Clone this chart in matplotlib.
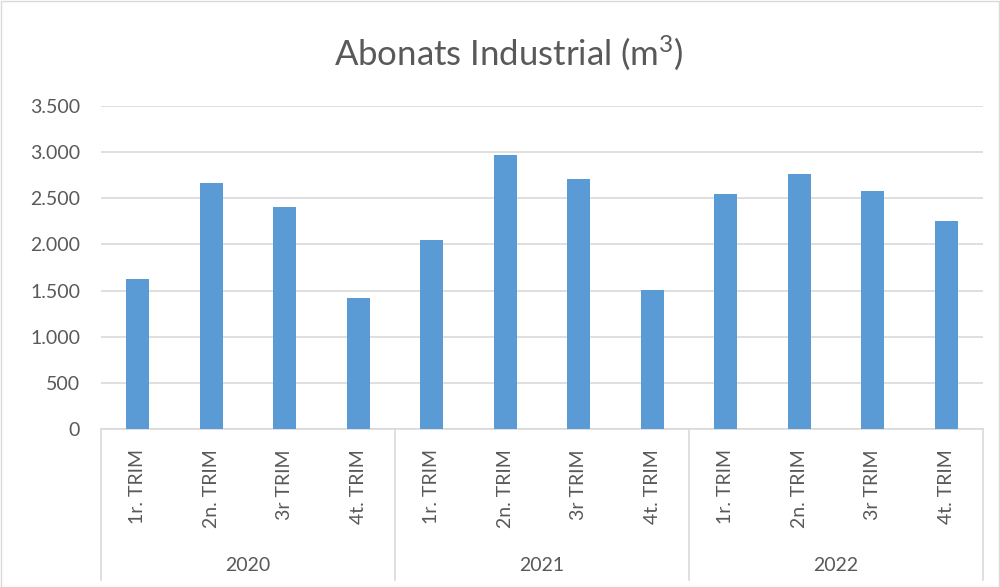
import matplotlib
matplotlib.use("Agg")
import matplotlib.pyplot as plt
from matplotlib.patches import Rectangle
from matplotlib.ticker import FuncFormatter
import matplotlib.transforms as mtransforms

years = ["2020", "2021", "2022"]
quarters = ["1r. TRIM", "2n. TRIM", "3r TRIM", "4t. TRIM"]
values_2020 = [1624, 2665, 2405, 1418]
values_2021 = [2050, 2969, 2712, 1504]
values_2022 = [2549, 2766, 2578, 2256]
title = r"Abonats Industrial (m$^{3}$)"

plt.rcParams['font.family'] = ['Lato', 'DejaVu Sans']
plt.rcParams['mathtext.fontset'] = 'custom'
plt.rcParams['mathtext.rm'] = 'Lato'
plt.rcParams['mathtext.it'] = 'Lato'
plt.rcParams['mathtext.bf'] = 'Lato'
txt = "#595959"
grid = "#d9d9d9"
bar_color = "#5B9BD5"

values = values_2020 + values_2021 + values_2022
labels = quarters * len(years)
x = list(range(len(values)))

fig = plt.figure(figsize=(10, 5.87), dpi=100)
ax = fig.add_axes([0.101, 0.2692, 0.882, 0.5503])
ax.bar(x, values, width=0.31, color=bar_color, zorder=3)
ax.set_xlim(-0.5, len(values) - 0.5)
ax.set_ylim(0, 3500)
ax.set_yticks(range(0, 3501, 500))
ax.yaxis.set_major_formatter(FuncFormatter(lambda v, p: f"{int(v):,}".replace(",", ".")))
ax.tick_params(axis='y', length=0, pad=15, labelsize=14, labelcolor=txt)
ax.set_xticks([])
ax.grid(axis='y', color=grid, lw=1.2, zorder=0)
for s in ["top", "right", "left"]:
    ax.spines[s].set_visible(False)
ax.spines["bottom"].set_color(grid)
ax.spines["bottom"].set_linewidth(1.2)

trans = mtransforms.blended_transform_factory(ax.transData, ax.transAxes)
for xi, lab in zip(x, labels):
    ax.text(xi, -0.063, lab, rotation=90, ha='center', va='top', fontsize=14,
            color=txt, transform=trans)
n = len(quarters)
for gi, yr in enumerate(years):
    ax.text(gi * n + (n - 1) / 2, -0.424, yr, ha='center', va='center', fontsize=14,
            color=txt, transform=trans)
for b in range(len(years) + 1):
    xb = b * n - 0.5
    ax.plot([xb, xb], [0, -0.4675], color=grid, lw=1.2, transform=trans, clip_on=False)

fig.text(0.509, 1 - 53 / 587, title, ha='center', va='center', fontsize=25, color=txt)
fig.patches.append(Rectangle((0.0005, 0.0008), 0.998, 0.998, transform=fig.transFigure,
                             fill=False, edgecolor=grid, lw=1))
fig.savefig("out.png", dpi=100)
